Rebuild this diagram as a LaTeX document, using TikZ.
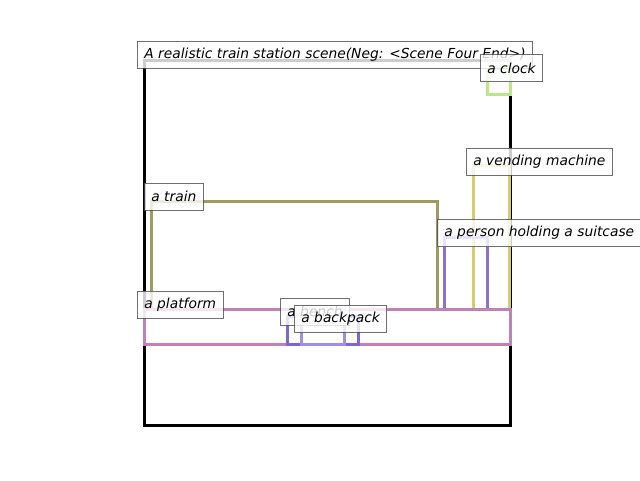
\documentclass[tikz,border=0pt]{standalone}
\usepackage{fontspec}
\setmainfont{DejaVu Sans}
\definecolor{cScene}{RGB}{0,0,0}
\definecolor{cClock}{RGB}{184,233,134}
\definecolor{cVend}{RGB}{212,204,110}
\definecolor{cPerson}{RGB}{138,112,208}
\definecolor{cTrain}{RGB}{160,154,96}
\definecolor{cPlat}{RGB}{192,128,184}
\definecolor{cBench}{RGB}{128,100,210}
\definecolor{cPack}{RGB}{160,144,224}
\begin{document}
\begin{tikzpicture}[x=1pt,y=-1pt,
  bbox/.style={line width=3pt},
  lbl/.style={draw=black!70, line width=1pt, fill=white, fill opacity=0.8, draw opacity=0.8, text opacity=1,
    font=\fontsize{13.8}{16}\selectfont\itshape, inner xsep=6.9pt, inner ysep=0pt, minimum height=27pt, anchor=west}]
\useasboundingbox (0,0) rectangle (640,480);
% boxes
\draw[bbox, cScene] (144,60) rectangle (510,425);
\draw[bbox, cClock] (487,68) rectangle (510,94);
\draw[bbox, cVend] (473,165) rectangle (509,309);
\draw[bbox, cPerson] (444,237) rectangle (487,309);
\draw[bbox, cTrain] (151,201) rectangle (437,309);
\draw[bbox, cPlat] (144,309) rectangle (510,344);
\draw[bbox, cBench] (287,316) rectangle (358,344);
\draw[bbox, cPack] (301,323) rectangle (344,344);
% labels
\node[lbl] (title) at (137,54.5) {A realistic train station scene(Neg: <Scene Four End>)};
\node[lbl] (clock) at (480,68) {a clock};
\node[lbl] (vend) at (466,161.5) {a vending machine};
\node[lbl] (person) at (437,233) {a person holding a suitcase};
\node[lbl] (train) at (144,196.5) {a train};
\node[lbl] (plat) at (137,304.5) {a platform};
\node[lbl] (bench) at (280,311.5) {a bench};
\node[lbl] (pack) at (294,318.5) {a backpack};
\end{tikzpicture}
\end{document}
